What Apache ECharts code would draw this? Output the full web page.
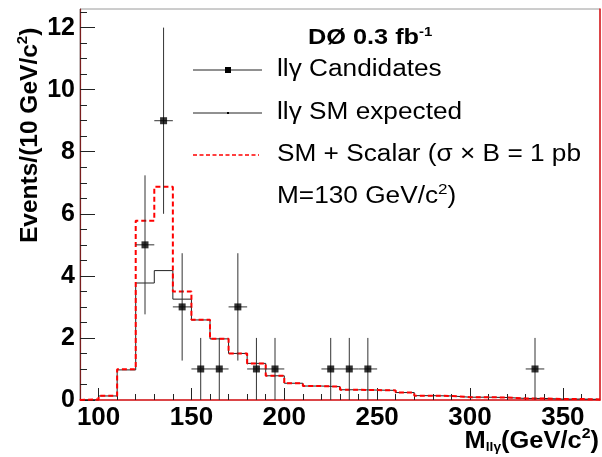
<!DOCTYPE html>
<html>
<head>
<meta charset="utf-8">
<script src="https://cdn.jsdelivr.net/npm/echarts@6/dist/echarts.min.js"></script>
<style>
  html, body { margin: 0; padding: 0; background: #fff; }
  #chart { width: 602px; height: 457px; }
</style>
</head>
<body>
<div id="chart"></div>
<script>
// Lower edges of the 10 GeV/c^2 mass bins
var binLow = [90, 100, 110, 120, 130, 140, 150, 160, 170, 180, 190, 200, 210, 220,
              230, 240, 250, 260, 270, 280, 290, 300, 310, 320, 330, 340, 350, 360];
var binWidth = 10;

// Expected SM llγ events per bin
var smExpected = [0.00, 0.13, 0.97, 3.77, 4.17, 3.25, 2.58, 1.97, 1.50, 1.18, 0.78, 0.54, 0.45, 0.43,
                  0.33, 0.32, 0.31, 0.24, 0.14, 0.13, 0.09, 0.09, 0.08, 0.05, 0.05, 0.03, 0.03, 0.02];

// SM + scalar signal (σ×B = 1 pb, M = 130 GeV/c^2)
var smScalar = [0.02, 0.14, 0.99, 5.78, 6.87, 3.50, 2.59, 1.97, 1.50, 1.18, 0.78, 0.54, 0.45, 0.43,
                0.33, 0.32, 0.31, 0.24, 0.14, 0.13, 0.09, 0.09, 0.08, 0.05, 0.05, 0.03, 0.03, 0.02];

// Observed llγ candidates (bin centre, count, statistical error)
var candMass  = [125, 135, 145, 155, 165, 175, 185, 195, 225, 235, 245, 335];
var candCount = [5, 9, 3, 1, 1, 3, 1, 1, 1, 1, 1, 1];
var candErr   = [2.24, 3, 1.73, 1, 1, 1.73, 1, 1, 1, 1, 1, 1];

// Axis ticks
var xMajorTicks = [100, 150, 200, 250, 300, 350];
var xMinorTicks = [100, 110, 120, 130, 140, 150, 160, 170, 180, 190, 200, 210, 220, 230,
                   240, 250, 260, 270, 280, 290, 300, 310, 320, 330, 340, 350, 360];
var yMajorTicks = [0, 2, 4, 6, 8, 10, 12];
var yMinorTicks = [0, 0.5, 1, 1.5, 2, 2.5, 3, 3.5, 4, 4.5, 5, 5.5, 6, 6.5, 7, 7.5, 8, 8.5,
                   9, 9.5, 10, 10.5, 11, 11.5, 12, 12.5];

var FONT = '"Liberation Sans", Arial, Helvetica, sans-serif';
var WIDE = 1.14; // horizontal stretch of the annotation text

// Step outline of a histogram: closes down to zero at both ends
function histPoints(values) {
  var pts = [[binLow[0], 0]];
  for (var i = 0; i < values.length; i++) pts.push([binLow[i], values[i]]);
  var last = binLow[binLow.length - 1] + binWidth;
  pts.push([last, values[values.length - 1]]);
  pts.push([last, 0]);
  return pts;
}

var candData = candMass.map(function (m, i) { return [m, candCount[i], candErr[i]]; });

var chart = echarts.init(document.getElementById('chart'), null, { renderer: 'canvas' });

var xBase = { type: 'value', min: 90, max: 370, gridIndex: 0, splitLine: { show: false } };
var yBase = { type: 'value', min: 0, max: 12.6, gridIndex: 0, splitLine: { show: false } };

var option = {
  animation: false,
  backgroundColor: '#ffffff',
  grid: { left: 80, right: 2, top: 9, bottom: 57, show: true, borderColor: '#9a9a9a', borderWidth: 1 },
  xAxis: [
    Object.assign({}, xBase, {
      position: 'bottom',
      axisLine: { show: true, lineStyle: { color: '#e0191c', width: 1.5 } },
      axisTick: { show: true, inside: true, length: 6, customValues: xMinorTicks, lineStyle: { color: '#222', width: 1 } },
      axisLabel: { show: true, customValues: xMajorTicks, margin: 5, color: '#000',
                   fontFamily: FONT, fontWeight: 'bold', fontSize: 26 }
    }),
    Object.assign({}, xBase, {
      position: 'bottom',
      axisLine: { show: false },
      axisTick: { show: true, inside: true, length: 12, customValues: xMajorTicks, lineStyle: { color: '#222', width: 1 } },
      axisLabel: { show: false }
    })
  ],
  yAxis: [
    Object.assign({}, yBase, {
      position: 'left',
      axisLine: { show: true, lineStyle: { color: '#7a1d1d', width: 1.2 } },
      axisTick: { show: true, inside: true, length: 7, customValues: yMinorTicks, lineStyle: { color: '#222', width: 1 } },
      axisLabel: { show: true, customValues: yMajorTicks, margin: 5, color: '#000',
                   fontFamily: FONT, fontWeight: 'bold', fontSize: 25 }
    }),
    Object.assign({}, yBase, {
      position: 'left',
      axisLine: { show: false },
      axisTick: { show: true, inside: true, length: 15, customValues: yMajorTicks, lineStyle: { color: '#222', width: 1 } },
      axisLabel: { show: false }
    }),
    Object.assign({}, yBase, {
      position: 'right',
      axisLine: { show: true, lineStyle: { color: '#e0191c', width: 1.5 } },
      axisTick: { show: false },
      axisLabel: { show: false }
    })
  ],
  series: [
    {
      name: 'llγ SM expected',
      type: 'line',
      step: 'end',
      xAxisIndex: 0, yAxisIndex: 0,
      data: histPoints(smExpected),
      symbol: 'none',
      lineStyle: { color: '#222', width: 1 },
      z: 3
    },
    {
      name: 'SM + Scalar',
      type: 'line',
      step: 'end',
      xAxisIndex: 0, yAxisIndex: 0,
      data: histPoints(smScalar),
      symbol: 'none',
      lineStyle: { color: '#ff0000', width: 2, type: [5, 3] },
      z: 4
    },
    {
      name: 'errors',
      type: 'custom',
      xAxisIndex: 0, yAxisIndex: 0,
      data: candData,
      renderItem: function (params, api) {
        var m = api.value(0), n = api.value(1), e = api.value(2);
        var lo = api.coord([m, n - e]);
        var hi = api.coord([m, n + e]);
        var l = api.coord([m - binWidth / 2, n]);
        var r = api.coord([m + binWidth / 2, n]);
        var st = { stroke: '#333', lineWidth: 1 };
        return {
          type: 'group',
          children: [
            { type: 'line', shape: { x1: lo[0], y1: lo[1], x2: hi[0], y2: hi[1] }, style: st },
            { type: 'line', shape: { x1: l[0], y1: l[1], x2: r[0], y2: r[1] }, style: st }
          ]
        };
      },
      z: 5
    },
    {
      name: 'llγ Candidates',
      type: 'scatter',
      xAxisIndex: 0, yAxisIndex: 0,
      data: candData,
      symbol: 'rect',
      symbolSize: 7,
      itemStyle: { color: '#000' },
      z: 6
    }
  ],
  graphic: [
    // y-axis title
    {
      type: 'text', x: 30, y: 243, rotation: Math.PI / 2,
      style: {
        text: '{a|Events/(10 GeV/c}{s|2}{a|)}',
        align: 'left', verticalAlign: 'middle',
        rich: {
          a: { fontFamily: FONT, fontWeight: 'bold', fontSize: 24.5, fill: '#000', lineHeight: 28 },
          s: { fontFamily: FONT, fontWeight: 'bold', fontSize: 15, fill: '#000', padding: [0, 0, 15, 0] }
        }
      }
    },
    // x-axis title
    {
      type: 'text', x: 599, y: 456, scaleX: 1.06,
      style: {
        text: '{a|M}{b|llγ}{a|(GeV/c}{s|2}{a|)}',
        align: 'right', verticalAlign: 'bottom',
        rich: {
          a: { fontFamily: FONT, fontWeight: 'bold', fontSize: 24, fill: '#000', lineHeight: 27 },
          b: { fontFamily: FONT, fontWeight: 'bold', fontSize: 13, fill: '#000', padding: [13, 0, 0, 0] },
          s: { fontFamily: FONT, fontWeight: 'bold', fontSize: 15, fill: '#000', padding: [0, 0, 15, 0] }
        }
      }
    },
    // experiment label
    {
      type: 'text', x: 308, y: 38, scaleX: 1.15,
      style: {
        text: '{a|DØ 0.3 fb}{s|-1}',
        align: 'left', verticalAlign: 'middle',
        rich: {
          a: { fontFamily: FONT, fontWeight: 'bold', fontSize: 22, fill: '#000', lineHeight: 25 },
          s: { fontFamily: FONT, fontWeight: 'bold', fontSize: 13, fill: '#000', padding: [0, 0, 12, 0] }
        }
      }
    },
    // legend: candidates
    { type: 'line', shape: { x1: 193, y1: 70, x2: 262, y2: 70 }, style: { stroke: '#222', lineWidth: 1 } },
    { type: 'rect', shape: { x: 225, y: 67, width: 6, height: 6 }, style: { fill: '#000' } },
    { type: 'text', x: 277, y: 70, scaleX: WIDE, style: { text: 'llγ Candidates', font: '23px ' + FONT, fill: '#000', align: 'left', verticalAlign: 'middle' } },
    // legend: SM expected
    { type: 'line', shape: { x1: 193, y1: 113, x2: 262, y2: 113 }, style: { stroke: '#222', lineWidth: 1 } },
    { type: 'rect', shape: { x: 227, y: 112, width: 2, height: 2 }, style: { fill: '#000' } },
    { type: 'text', x: 277, y: 113, scaleX: WIDE, style: { text: 'llγ SM expected', font: '23px ' + FONT, fill: '#000', align: 'left', verticalAlign: 'middle' } },
    // legend: SM + scalar
    { type: 'line', shape: { x1: 193, y1: 155, x2: 259, y2: 155 }, style: { stroke: '#ff0000', lineWidth: 1.5, lineDash: [4, 2.5] } },
    { type: 'text', x: 277, y: 155, scaleX: WIDE, style: { text: 'SM + Scalar (σ × B = 1 pb', font: '23px ' + FONT, fill: '#000', align: 'left', verticalAlign: 'middle' } },
    {
      type: 'text', x: 277, y: 197, scaleX: WIDE,
      style: {
        text: '{a|M=130 GeV/c}{s|2}{a|)}',
        align: 'left', verticalAlign: 'middle',
        rich: {
          a: { fontFamily: FONT, fontSize: 23, fill: '#000', lineHeight: 26 },
          s: { fontFamily: FONT, fontSize: 15, fill: '#000', padding: [0, 0, 14, 0] }
        }
      }
    }
  ]
};

chart.setOption(option);
</script>
</body>
</html>
